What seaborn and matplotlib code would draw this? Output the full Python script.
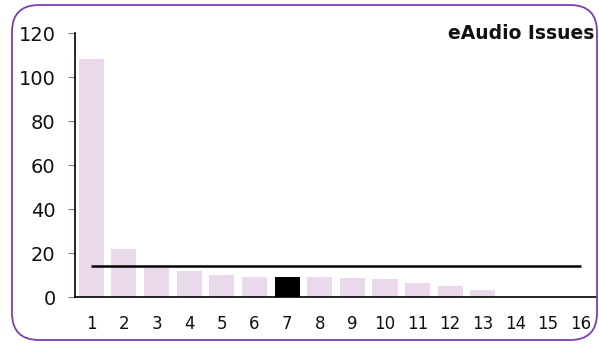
import matplotlib
matplotlib.use("Agg")
import matplotlib.pyplot as plt
import seaborn as sns
import numpy as np
from matplotlib.patches import FancyBboxPatch

categories = [str(i) for i in range(1, 17)]
values = [108, 22, 13, 12, 10, 9, 9, 9, 8.5, 8, 6.5, 5, 3, 0, 0, 0]
highlight = "7"
title = "eAudio Issues"
yticks = [0, 20, 40, 60, 80, 100, 120]

bar_color = "#EAD9EB"
hi_color = "#000000"
colors = [hi_color if c == highlight else bar_color for c in categories]

sns.set_style("white")
plt.rcParams['font.family'] = ['DejaVu Sans']

fig = plt.figure(figsize=(5.99, 3.45), dpi=100)
ax = fig.add_axes([0.1252, 0.1391, 0.8715, 0.7652])

sns.barplot(x=categories, y=values, hue=categories, palette=colors,
            legend=False, width=0.77, saturation=1, ax=ax, edgecolor="none")

mean_val = float(np.mean(values))
ax.hlines(mean_val, 0, len(categories) - 1, color="black", linewidth=1.8, zorder=5)

ax.set_ylim(0, 120)
ax.set_xlim(-0.5, len(categories) - 0.5)
ax.set_yticks(yticks)
ax.set_yticklabels([str(t) for t in yticks], fontsize=14)
ax.tick_params(axis="y", direction="out", length=5, width=0.8, color="#808080", pad=9, left=True)
ax.tick_params(axis="x", length=0, pad=13, labelsize=12)
for lab in ax.get_xticklabels() + ax.get_yticklabels():
    lab.set_color("#111111")
ax.set_xlabel("")
ax.set_ylabel("")
for s in ["top", "right"]:
    ax.spines[s].set_visible(False)
for s in ["left", "bottom"]:
    ax.spines[s].set_visible(True)
    ax.spines[s].set_color("black")
    ax.spines[s].set_linewidth(1.2)

fig.text(0.992, 0.903, title, ha="right", va="center", fontsize=13.5, fontweight="bold", color="#111111")

border = FancyBboxPatch((12 / 599, 5 / 345), (597 - 12) / 599, (340 - 5) / 345,
                        boxstyle="round,pad=0,rounding_size=0.045",
                        transform=fig.transFigure, facecolor="none",
                        edgecolor="#7B3FB0", linewidth=1.3, mutation_aspect=599 / 345)
fig.patches.append(border)

fig.savefig("out.png", dpi=100)
